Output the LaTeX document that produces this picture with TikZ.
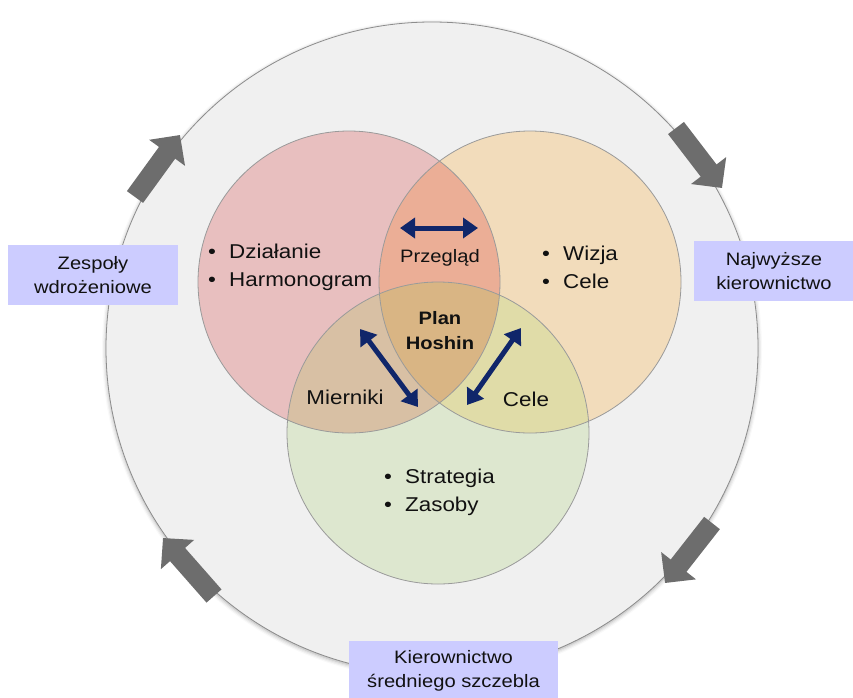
\documentclass[tikz,border=0pt]{standalone}
\usepackage{fontspec}
\setmainfont{Liberation Sans}[FakeStretch=1.12]
\usetikzlibrary{arrows.meta,shadows.blur}

\definecolor{ringfill}{HTML}{F0F0F0}
\definecolor{ringline}{HTML}{8C8C8C}
\definecolor{redfill}{HTML}{E8BFBF}
\definecolor{orangefill}{HTML}{F2DCBB}
\definecolor{greenfill}{HTML}{DDE7CF}
\definecolor{rofill}{HTML}{EBAE96}
\definecolor{rgfill}{HTML}{D8C0A4}
\definecolor{ogfill}{HTML}{E0DCA8}
\definecolor{corefill}{HTML}{D9B584}
\definecolor{vennline}{HTML}{9A9A9A}
\definecolor{labelfill}{HTML}{CCCCFF}
\definecolor{blockgray}{HTML}{6D6D6D}
\definecolor{navy}{HTML}{10266A}
\definecolor{ink}{HTML}{111111}

\tikzset{
  ring/.style={circle, minimum size=652pt, inner sep=0pt, fill=ringfill, draw=ringline, line width=0.8pt,
    blur shadow={shadow xshift=0pt, shadow yshift=-1.5pt, shadow blur radius=4pt, shadow opacity=35}},
  vennring/.style={draw=vennline, line width=0.8pt},
  labelbox/.style={fill=labelfill, inner sep=0pt, align=center, text=ink,
    font=\fontsize{18}{24}\selectfont},
  bullets/.style={inner sep=0pt, align=left, anchor=west, text=ink,
    font=\fontsize{20}{28}\selectfont},
  plain/.style={inner sep=0pt, align=center, text=ink},
  blockarrow/.style={draw=blockgray, line width=20pt,
    -{Triangle[width=43pt,length=22pt]}},
  linkarrow/.style={draw=navy, line width=5pt,
    {Triangle[width=20pt,length=15pt]}-{Triangle[width=20pt,length=15pt]}}
}
\newcommand{\bul}[1]{\makebox[21pt][l]{•}#1}

\begin{document}
\begin{tikzpicture}[x=1pt,y=-1pt]
\useasboundingbox (0,0) rectangle (853,697);

% outer ring
\node[ring] (ring) at (432,348) {};

% circle centres
\coordinate (cR) at (349,282);
\coordinate (cO) at (530,282);
\coordinate (cG) at (438,433);
\def\rr{151pt}

% base fills
\fill[redfill] (cR) circle (\rr);
\fill[orangefill] (cO) circle (\rr);
\fill[greenfill] (cG) circle (\rr);

% pairwise overlaps
\begin{scope}
  \clip (cR) circle (\rr);
  \fill[rofill] (cO) circle (\rr);
  \fill[rgfill] (cG) circle (\rr);
\end{scope}
\begin{scope}
  \clip (cO) circle (\rr);
  \fill[ogfill] (cG) circle (\rr);
\end{scope}
% triple overlap
\begin{scope}
  \clip (cR) circle (\rr);
  \clip (cO) circle (\rr);
  \fill[corefill] (cG) circle (\rr);
\end{scope}

% outlines
\draw[vennring] (cR) circle (\rr);
\draw[vennring] (cO) circle (\rr);
\draw[vennring] (cG) circle (\rr);

% cycle arrows on the ring
\coordinate (a1s) at (135,197); \coordinate (a1e) at (180,135);
\coordinate (a2s) at (676,128); \coordinate (a2e) at (722,188);
\coordinate (a3s) at (712,523); \coordinate (a3e) at (665,583);
\coordinate (a4s) at (214,596); \coordinate (a4e) at (163,538);
\draw[blockarrow] (a1s) -- (a1e);
\draw[blockarrow] (a2s) -- (a2e);
\draw[blockarrow] (a3s) -- (a3e);
\draw[blockarrow] (a4s) -- (a4e);

% circle contents
\node[bullets] (act) at (208,267) {\bul{Działanie}\\\bul{Harmonogram}};
\node[bullets] (viz) at (542,267) {\bul{Wizja}\\\bul{Cele}};
\node[bullets] (str) at (384,492) {\bul{Strategia}\\\bul{Zasoby}};

\node[plain, font=\fontsize{18}{24}\selectfont] (rev) at (440,258) {Przegląd};
\node[plain, font=\fontsize{18}{25}\selectfont\bfseries] (core) at (440,331) {Plan\\Hoshin};
\node[plain, font=\fontsize{20}{24}\selectfont] (met) at (345,397) {Mierniki};
\node[plain, font=\fontsize{20}{24}\selectfont] (goal) at (526,399) {Cele};

% links between the overlaps
\coordinate (t1) at (400,228); \coordinate (t2) at (478,228);
\coordinate (l1) at (360,329); \coordinate (l2) at (418,407);
\coordinate (r1) at (521,328); \coordinate (r2) at (467,405);
\draw[linkarrow] (t1) -- (t2);
\draw[linkarrow] (l1) -- (l2);
\draw[linkarrow] (r1) -- (r2);

% management levels
\node[labelbox, minimum width=170pt, minimum height=60pt] (team) at (93,275) {Zespoły\\wdrożeniowe};
\node[labelbox, minimum width=160pt, minimum height=60pt] (top) at (774,271) {Najwyższe\\kierownictwo};
\node[labelbox, minimum width=209pt, minimum height=60pt] (mid) at (453.5,671) {Kierownictwo\\średniego szczebla};
\end{tikzpicture}
\end{document}
